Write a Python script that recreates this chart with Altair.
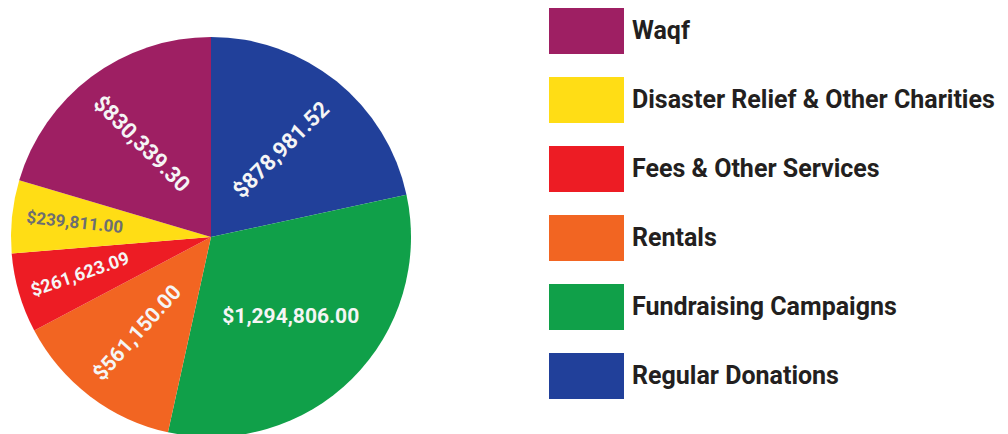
import altair as alt
import pandas as pd
import math

categories = ["Regular Donations", "Fundraising Campaigns", "Rentals",
              "Fees & Other Services", "Disaster Relief & Other Charities", "Waqf"]
values = [878981.52, 1294806.00, 561150.00, 261623.09, 239811.00, 830339.30]

legend_order = ["Waqf", "Disaster Relief & Other Charities", "Fees & Other Services",
                "Rentals", "Fundraising Campaigns", "Regular Donations"]
legend_colors = ["#9E1F63", "#FFDD15", "#ED1C24", "#F26522", "#10A049", "#21409A"]

# label styling (per slice, same order as categories)
label_radius = [112, 113, 121, 136, 137, 116]
label_angle = [-45, 0, -48, -19, 6, 45]
label_size = [22, 21, 21, 18, 17, 22]
label_color = ["#f5f5f5", "#f5f5f5", "#f5f5f5", "#f5f5f5", "#6d6e71", "#f5f5f5"]

df = pd.DataFrame({
    "category": categories,
    "value": values,
    "idx": list(range(len(categories))),
    "lr": label_radius,
    "la": label_angle,
    "ls": label_size,
    "lc": label_color,
})

CX, CY = 203, 229

arcs = alt.Chart(df).mark_arc(outerRadius=200, x=CX, y=CY).encode(
    theta=alt.Theta("value:Q", stack=True),
    order=alt.Order("idx:Q", sort="ascending"),
    color=alt.Color(
        "category:N",
        scale=alt.Scale(domain=legend_order, range=legend_colors),
        legend=alt.Legend(
            title=None,
            orient="none",
            legendX=541,
            legendY=0,
            symbolType="M-1,-0.6133H1V0.6133H-1Z",
            symbolSize=5625,
            symbolStrokeWidth=0,
            symbolOpacity=1,
            clipHeight=46,
            rowPadding=23,
            labelOffset=8,
            labelFont="Roboto",
            labelFontWeight="bold",
            labelFontSize=25,
            labelColor="#231F20",
            labelLimit=600,
        ),
    ),
)

texts = alt.Chart(df).transform_window(
    cum="sum(value)", sort=[alt.SortField("idx", order="ascending")],
    frame=[None, 0]
).transform_joinaggregate(
    total="sum(value)"
).transform_calculate(
    tr=f"2 * {math.pi} * (datum.cum - datum.value / 2) / datum.total"
).mark_text(font="Roboto", fontWeight="bold", x=CX, y=CY,
            align="center", baseline="middle").encode(
    theta=alt.Theta("tr:Q", scale=None),
    text=alt.Text("value:Q", format="$,.2f"),
    radius=alt.Radius("lr:Q", scale=None),
    angle=alt.Angle("la:Q", scale=None),
    size=alt.Size("ls:Q", scale=None),
    color=alt.Color("lc:N", scale=None),
)

chart = alt.layer(arcs, texts).properties(
    width=406, height=418, padding=0, background="white"
).configure_view(stroke=None)

chart.save("out.html", embed_options={"renderer": "svg", "actions": False})
